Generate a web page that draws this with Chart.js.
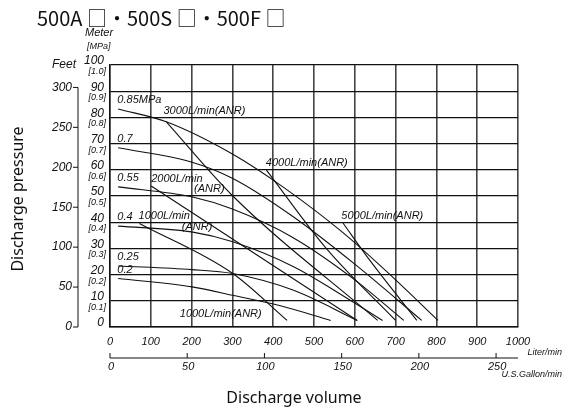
<!DOCTYPE html>
<html>
<head>
<meta charset="utf-8">
<script src="https://cdn.jsdelivr.net/npm/chart.js@4.4.1/dist/chart.umd.min.js"></script>
<style>
  html, body { margin: 0; padding: 0; background: #fff; }
  #wrap { width: 567px; height: 411px; }
</style>
</head>
<body>
<div id="wrap"><canvas id="pump-curve" width="567" height="411"></canvas></div>
<script>
// axis ticks
const flowTicks = [0, 100, 200, 300, 400, 500, 600, 700, 800, 900, 1000];
const meterTicks = [0, 10, 20, 30, 40, 50, 60, 70, 80, 90, 100];
const mpaTicks = ["", "[0.1]", "[0.2]", "[0.3]", "[0.4]", "[0.5]", "[0.6]", "[0.7]", "[0.8]", "[0.9]", "[1.0]"];
const feetTicks = [0, 50, 100, 150, 200, 250, 300];
const gallonTicks = [0, 50, 100, 150, 200, 250];

// pressure curves (flow L/min, head m)
const p085Flow = [20, 138, 300, 428, 571, 700, 804];
const p085Head = [83.2, 78.3, 66, 53, 36, 18, 2.5];
const p07Flow = [20, 199, 301, 450, 600, 764];
const p07Head = [68.4, 63, 56.7, 42, 24, 2.5];
const p055Flow = [20, 200, 300, 450, 600, 720];
const p055Head = [53.5, 49.7, 45, 34, 18, 2.5];
const p04Flow = [20, 200, 301, 450, 560, 668];
const p04Head = [38.5, 36.3, 32.5, 23, 13, 2.5];
const p025Flow = [20, 200, 301, 450, 606];
const p025Head = [23.3, 21.9, 20.4, 14, 2.5];
const p02Flow = [20, 201, 301, 420, 541];
const p02Head = [18.5, 15.3, 12.1, 8, 2.5];

// air consumption lines
const a1000Flow = [72, 301, 434];
const a1000Head = [39.5, 20.4, 2.5];
const a2000Flow = [101, 606];
const a2000Head = [53.8, 2.5];
const a3000Flow = [138, 301, 656];
const a3000Head = [78.3, 50, 2.5];
const a4000Flow = [383, 530, 700];
const a4000Head = [60, 30, 2.5];
const a5000Flow = [571, 637, 752];
const a5000Head = [39.7, 25.4, 2.5];

// curve labels
const labelTexts = ["0.85MPa", "3000L/min(ANR)", "0.7", "4000L/min(ANR)", "0.55", "2000L/min", "(ANR)",
  "5000L/min(ANR)", "0.4", "1000L/min", "(ANR)", "0.25", "0.2", "1000L/min(ANR)"];
const labelFlow = [18, 131, 18, 382, 18, 101, 206, 567, 18, 70, 176, 18, 18, 171];
const labelHead = [86.6, 82.4, 71.7, 62.5, 56.8, 56.6, 52.8, 42.5, 41.9, 42.3, 38.1, 26.8, 21.9, 4.9];

const FT = 0.3048;
const GAL = 3.785;

function pts(xs, ys) {
  return xs.map((x, i) => ({ x: x, y: ys[i] }));
}

function curve(xs, ys) {
  return {
    data: pts(xs, ys),
    showLine: true,
    borderColor: "#111",
    borderWidth: 1.1,
    pointRadius: 0,
    cubicInterpolationMode: "monotone",
    fill: false
  };
}

const textPlugin = {
  id: "pumpText",
  afterDraw(chart) {
    const ctx = chart.ctx;
    const x = chart.scales.x;
    const y = chart.scales.y;
    const left = chart.chartArea.left;
    const bottom = chart.chartArea.bottom;
    const right = chart.chartArea.right;
    ctx.save();
    ctx.fillStyle = "#111";
    ctx.strokeStyle = "#111";

    // title
    ctx.font = "20px 'Noto Sans CJK JP'";
    ctx.textAlign = "left";
    ctx.textBaseline = "middle";
    ctx.fillText("500A \u25A1\u30FB500S \u25A1\u30FB500F \u25A1", 37, 18);

    // meter + MPa labels
    ctx.textAlign = "right";
    meterTicks.forEach((m, i) => {
      const py = y.getPixelForValue(m);
      ctx.font = "italic 12px 'Liberation Sans'";
      ctx.textBaseline = "bottom";
      ctx.fillText(String(m), 104, py + 2);
      if (mpaTicks[i]) {
        ctx.font = "italic 9px 'Liberation Sans'";
        ctx.textBaseline = "top";
        ctx.fillText(mpaTicks[i], 106, py + 2);
      }
    });
    ctx.textAlign = "left";
    ctx.textBaseline = "middle";
    ctx.font = "italic 11px 'Liberation Sans'";
    ctx.fillText("Meter", 85, 33);
    ctx.font = "italic 9px 'Liberation Sans'";
    ctx.fillText("[MPa]", 87, 46);
    ctx.font = "italic 12px 'Liberation Sans'";
    ctx.fillText("Feet", 52, y.getPixelForValue(100));

    // feet axis
    const fx = 78;
    ctx.lineWidth = 1;
    ctx.beginPath();
    ctx.moveTo(fx, y.getPixelForValue(0));
    ctx.lineTo(fx, y.getPixelForValue(feetTicks[feetTicks.length - 1] * FT));
    feetTicks.forEach(f => {
      const py = y.getPixelForValue(f * FT);
      ctx.moveTo(fx - 5, py);
      ctx.lineTo(fx, py);
    });
    ctx.stroke();
    ctx.textAlign = "right";
    ctx.font = "italic 12px 'Liberation Sans'";
    feetTicks.forEach(f => {
      ctx.fillText(String(f), fx - 6, y.getPixelForValue(f * FT));
    });

    // flow tick labels
    ctx.textAlign = "center";
    ctx.font = "italic 11px 'Liberation Sans'";
    flowTicks.forEach(v => {
      ctx.fillText(String(v), x.getPixelForValue(v), bottom + 15);
    });
    ctx.textAlign = "right";
    ctx.font = "italic 9px 'Liberation Sans'";
    ctx.fillText("Liter/min", 562, bottom + 25);

    // gallon axis
    const gy = 358;
    ctx.beginPath();
    ctx.moveTo(left, gy);
    ctx.lineTo(right, gy);
    gallonTicks.forEach(g => {
      const px = x.getPixelForValue(g * GAL);
      ctx.moveTo(px, gy);
      ctx.lineTo(px, gy - 5);
    });
    ctx.stroke();
    ctx.textAlign = "center";
    ctx.font = "italic 11px 'Liberation Sans'";
    gallonTicks.forEach(g => {
      ctx.fillText(String(g), x.getPixelForValue(g * GAL) + 1, gy + 9);
    });
    ctx.textAlign = "right";
    ctx.font = "italic 9px 'Liberation Sans'";
    ctx.fillText("U.S.Gallon/min", 562, gy + 16);

    // axis titles
    ctx.font = "16px 'Noto Sans'";
    ctx.textAlign = "center";
    ctx.fillText("Discharge volume", 294, 398);
    ctx.save();
    ctx.translate(18, 199);
    ctx.rotate(-Math.PI / 2);
    ctx.fillText("Discharge pressure", 0, 0);
    ctx.restore();

    // curve labels
    ctx.textAlign = "left";
    ctx.font = "italic 11px 'Liberation Sans'";
    labelTexts.forEach((t, i) => {
      ctx.fillText(t, x.getPixelForValue(labelFlow[i]), y.getPixelForValue(labelHead[i]));
    });
    ctx.restore();
  }
};

new Chart("pump-curve", {
  type: "scatter",
  data: {
    datasets: [
      curve(p085Flow, p085Head),
      curve(p07Flow, p07Head),
      curve(p055Flow, p055Head),
      curve(p04Flow, p04Head),
      curve(p025Flow, p025Head),
      curve(p02Flow, p02Head),
      curve(a1000Flow, a1000Head),
      curve(a2000Flow, a2000Head),
      curve(a3000Flow, a3000Head),
      curve(a4000Flow, a4000Head),
      curve(a5000Flow, a5000Head)
    ]
  },
  options: {
    responsive: false,
    animation: false,
    layout: {
      padding: { left: 110, top: 65, right: 49, bottom: 84 }
    },
    plugins: {
      legend: { display: false },
      tooltip: { enabled: false }
    },
    scales: {
      x: {
        type: "linear",
        min: 0,
        max: 1000,
        ticks: { display: false, stepSize: 100 },
        grid: { color: "#444", lineWidth: 1.6, drawTicks: false },
        border: { color: "#111", width: 1.4 }
      },
      y: {
        type: "linear",
        min: 0,
        max: 100,
        ticks: { display: false, stepSize: 10 },
        grid: { color: "#111", lineWidth: 1.3, drawTicks: false },
        border: { color: "#111", width: 1.4 }
      }
    }
  },
  plugins: [textPlugin]
});
</script>
</body>
</html>
